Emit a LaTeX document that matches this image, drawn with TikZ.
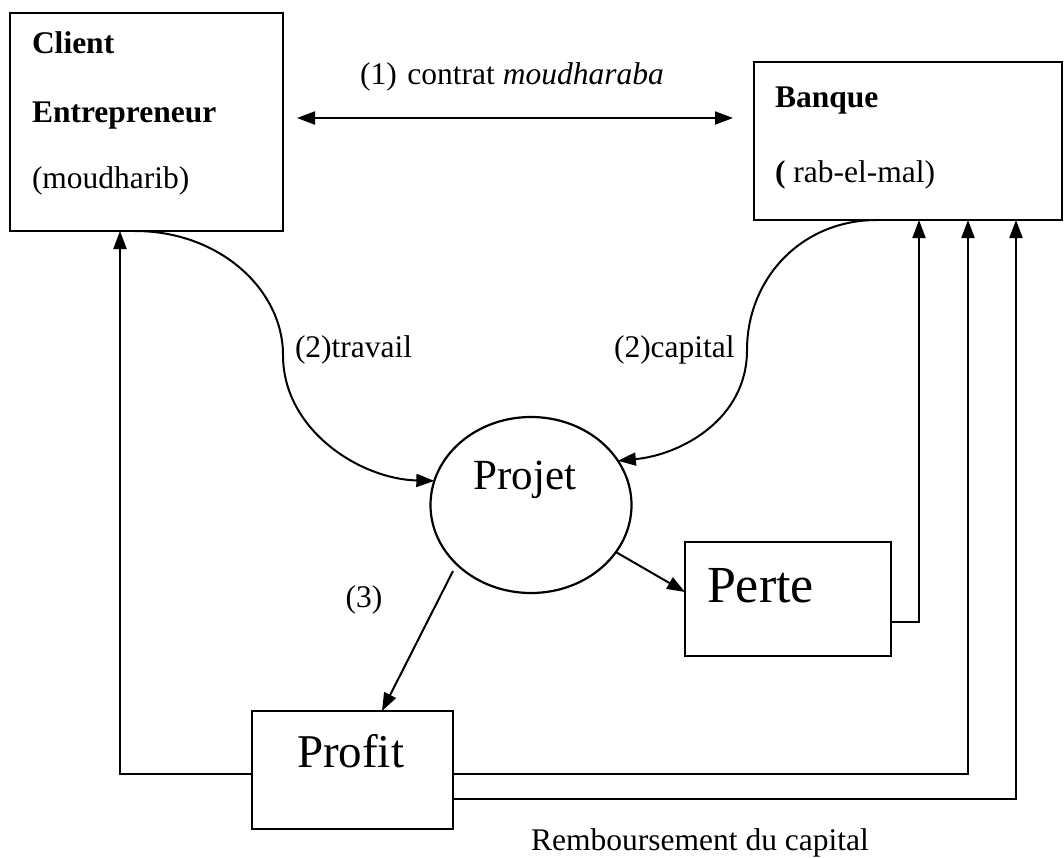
\documentclass[tikz,border=0pt]{standalone}
\usepackage{fontspec}
\setmainfont{Liberation Serif}
\usetikzlibrary{arrows.meta,shapes.geometric}
\begin{document}
\begin{tikzpicture}[x=1pt,y=-1pt,
  every node/.style={inner sep=0pt,outer sep=0pt},
  box/.style={draw,line width=2.2pt,rectangle},
  txt/.style={font=\fontsize{31.5}{38}\selectfont},
  arr/.style={line width=2pt,-{Triangle[length=18pt,width=13pt]}},
  arrboth/.style={line width=2pt,{Triangle[length=18pt,width=13pt]}-{Triangle[length=18pt,width=13pt]}}]
\useasboundingbox[fill=white] (0,0) rectangle (1064,857);

% boxes
\node[box,minimum width=273pt,minimum height=218pt] (client) at (146.5,122) {};
\node[box,minimum width=308pt,minimum height=158pt] (banque) at (908,141) {};
\node[draw,line width=2.2pt,ellipse,minimum width=201pt,minimum height=176pt] (projet) at (531,505) {};
\node[box,minimum width=206pt,minimum height=114pt] (perte) at (788,599) {};
\node[box,minimum width=201pt,minimum height=118pt] (profit) at (352.5,770) {};

% texts in boxes
\node[txt,anchor=base west] (t1) at (32,53) {\bfseries Client};
\node[txt,anchor=base west] (t2) at (32,122) {\bfseries Entrepreneur};
\node[txt,anchor=base west] (t3) at (32,188) {(moudharib)};
\node[txt,anchor=base west] (t4) at (775,107) {\bfseries Banque};
\node[txt,anchor=base west] (t5) at (775,182) {\textbf{(} rab-el-mal)};
\node[anchor=base,font=\fontsize{43}{50}\selectfont] (t6) at (525,489) {Projet};
\node[anchor=base west,font=\fontsize{52}{60}\selectfont] (t7) at (707,602) {Perte};
\node[anchor=base west,font=\fontsize{47}{55}\selectfont] (t8) at (297,767) {Profit};

% labels
\node[txt,anchor=base] (l1) at (512,84) {(1)\,\,contrat \textit{moudharaba}};
\node[txt,anchor=base west] (l2) at (295,357) {(2)travail};
\node[txt,anchor=base west] (l3) at (614,357) {(2)capital};
\node[txt,anchor=base] (l4) at (364,607) {(3)};
\node[txt,anchor=base] (l5) at (700,850) {Remboursement du capital};

% helper coordinates
\coordinate (y118) at (0,118);
\coordinate (y622) at (0,622);
\coordinate (y774) at (0,774);
\coordinate (y799) at (0,799);
\coordinate (xA) at (919,0);
\coordinate (xB) at (968,0);
\coordinate (xC) at (1016,0);
\coordinate (xL) at (120,0);
\coordinate (s3) at (453,571);

% connectors
\draw[arrboth] ([xshift=14pt]client.east |- y118) -- ([xshift=-21pt]banque.west |- y118);
\draw[arr] ([xshift=-11.5pt]client.south) .. controls (220,231) and (283,290) .. (283,355)
   .. controls (283,430) and (360,479) .. (projet.166);
\draw[arr] ([xshift=-31pt]banque.south) .. controls (800,220) and (747,280) .. (747,350)
   .. controls (747,420) and (680,455) .. (projet.27);
\draw[arr] (projet.-29) -- ([yshift=7pt]perte.west);
\draw[arr] (s3) -- ([xshift=29.5pt]profit.north);
\draw[arr] (perte.east |- y622) -| (banque.south -| xA);
\draw[arr] (profit.east |- y774) -| (banque.south -| xB);
\draw[arr] (profit.east |- y799) -| (banque.south -| xC);
\draw[arr] (profit.west |- y774) -| (client.south -| xL);
\end{tikzpicture}
\end{document}
